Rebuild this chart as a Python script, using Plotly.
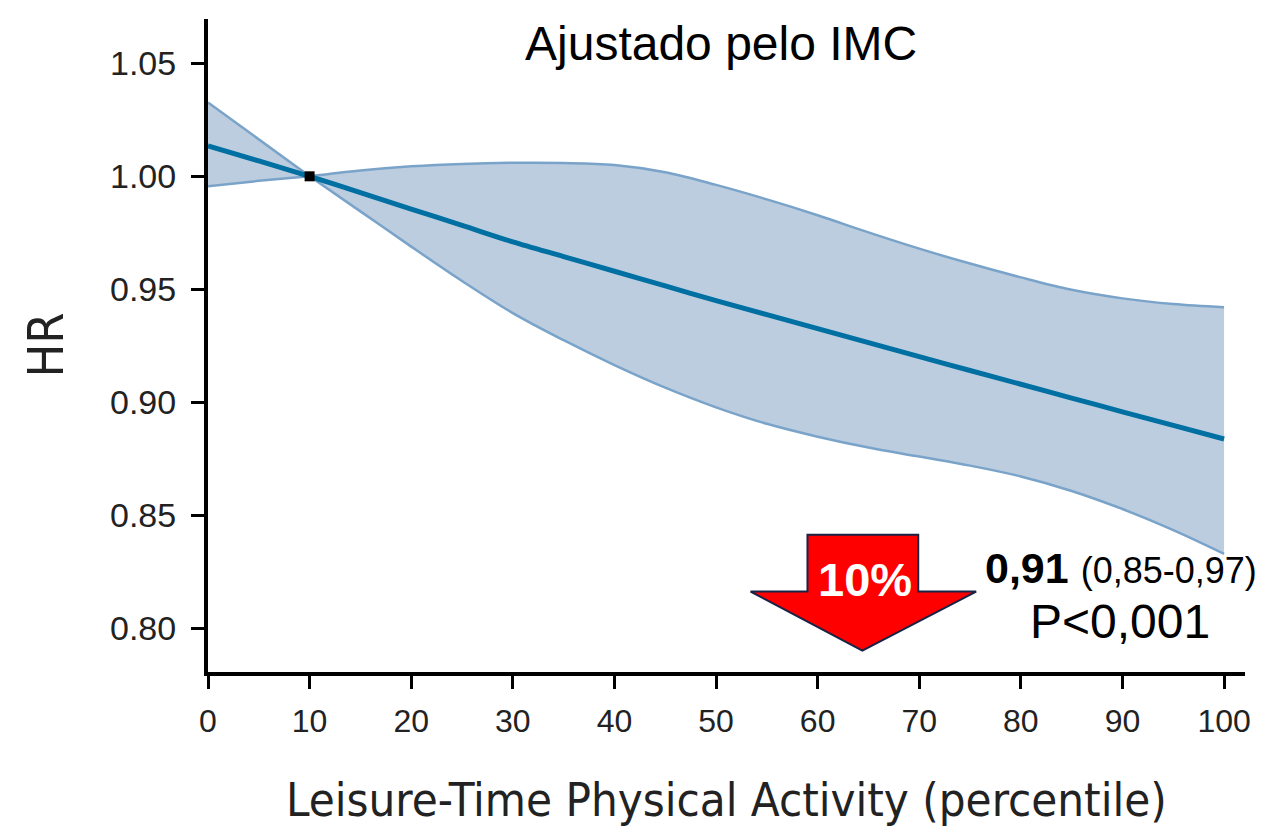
import plotly.graph_objects as go

# percentile of leisure-time physical activity
percentile = [0, 5, 10, 15, 20, 25, 30, 35, 40, 45, 50,
              55, 60, 65, 70, 75, 80, 85, 90, 95, 100]

# hazard ratio (adjusted for BMI) and its 95% CI
hr = [1.0135, 1.0068, 1.000, 0.9928, 0.9855, 0.9783, 0.9710, 0.9645, 0.9580, 0.9515, 0.9450,
      0.9388, 0.9326, 0.9264, 0.9202, 0.9141, 0.9080, 0.9019, 0.8958, 0.8898, 0.8838]
ci_upper = [1.0327, 1.0163, 1.000, 1.0026, 1.0044, 1.0055, 1.0060, 1.0059, 1.0050, 1.0018, 0.9962,
            0.9898, 0.9828, 0.9752, 0.9680, 0.9614, 0.9553, 0.9498, 0.9460, 0.9435, 0.9421]
ci_lower = [0.9956, 0.9980, 1.000, 0.9845, 0.9689, 0.9537, 0.9395, 0.9275, 0.9165, 0.9065, 0.8978,
            0.8905, 0.8848, 0.8800, 0.8760, 0.8720, 0.8672, 0.8608, 0.8528, 0.8435, 0.8330]

ref_point = (10, 1.0)

x_ticks = [0, 10, 20, 30, 40, 50, 60, 70, 80, 90, 100]
y_ticks = [0.80, 0.85, 0.90, 0.95, 1.00, 1.05]

band_fill = "rgb(188, 205, 224)"
band_edge = "rgb(122, 163, 201)"
line_color = "rgb(0, 111, 161)"
narrow = "Liberation Sans Narrow, DejaVu Sans Condensed, Arial Narrow, sans-serif"
arial = "Liberation Sans, Arial, sans-serif"

fig = go.Figure()

# confidence band: split at the reference point so the band pinches to a sharp point there
ref_idx = percentile.index(ref_point[0])
segments = [(0, ref_idx + 1, "linear"), (ref_idx, len(percentile), "spline")]
for start, stop, shape in segments:
    fig.add_trace(
        go.Scatter(
            x=percentile[start:stop],
            y=ci_upper[start:stop],
            mode="lines",
            line=dict(color=band_edge, width=2.5, shape=shape, smoothing=1.0),
            showlegend=False,
            hoverinfo="skip",
        )
    )
    fig.add_trace(
        go.Scatter(
            x=percentile[start:stop],
            y=ci_lower[start:stop],
            mode="lines",
            fill="tonexty",
            fillcolor=band_fill,
            line=dict(color=band_edge, width=2.5, shape=shape, smoothing=1.0),
            showlegend=False,
            hoverinfo="skip",
        )
    )
# HR line
fig.add_trace(
    go.Scatter(
        x=percentile,
        y=hr,
        mode="lines",
        line=dict(color=line_color, width=5, shape="spline", smoothing=0.9),
        showlegend=False,
    )
)
# reference point
fig.add_trace(
    go.Scatter(
        x=[ref_point[0]],
        y=[ref_point[1]],
        mode="markers",
        marker=dict(color="black", size=10, symbol="square", line=dict(width=0)),
        showlegend=False,
    )
)

# red down arrow
arrow = [(59.0, 0.8414), (69.9, 0.8414), (69.9, 0.8163), (75.6, 0.8163),
         (64.4, 0.7902), (53.4, 0.8163), (59.0, 0.8163)]
path = "M " + " L ".join("%s,%s" % p for p in arrow) + " Z"
fig.add_shape(
    type="path",
    path=path,
    xref="x",
    yref="y",
    fillcolor="rgb(255, 0, 0)",
    line=dict(color="rgb(25, 35, 70)", width=2),
    layer="above",
)

fig.add_annotation(
    x=64.7, y=0.8215, text="<b>10%</b>", showarrow=False,
    font=dict(family=arial, size=47, color="white"),
)
fig.add_annotation(
    x=89.9, y=0.8268,
    text="<b>0,91</b> <span style='font-size:36px'>(0,85-0,97)</span>",
    showarrow=False, font=dict(family=arial, size=43, color="black"),
)
fig.add_annotation(
    x=89.75, y=0.8030, text="P<0,001", showarrow=False,
    font=dict(family=arial, size=48, color="black"),
)
fig.add_annotation(
    x=50.5, y=1.0588, text="Ajustado pelo IMC", showarrow=False,
    font=dict(family=arial, size=48, color="black"),
)
# axis titles
fig.add_annotation(
    x=0.5, y=0, xref="paper", yref="paper", yanchor="middle",
    yshift=-127, text="Leisure-Time Physical Activity (percentile)",
    showarrow=False, font=dict(family=narrow, size=47, color="#222"),
)
fig.add_annotation(
    x=0, y=0.5, xref="paper", yref="paper", xanchor="center",
    xshift=-163, textangle=-90, text="HR",
    showarrow=False, font=dict(family=narrow, size=50, color="#222"),
)

fig.update_xaxes(
    range=[0, 102.06],
    tickvals=x_ticks,
    ticks="outside",
    ticklen=13,
    tickwidth=3,
    tickcolor="black",
    showline=True,
    linewidth=4,
    linecolor="black",
    showgrid=False,
    zeroline=False,
    ticklabelstandoff=5,
    tickfont=dict(family=arial, size=32, color="#222"),
)
fig.update_yaxes(
    range=[0.7807, 1.0696],
    tickvals=y_ticks,
    tickformat=".2f",
    ticks="outside",
    ticklen=13,
    tickwidth=3,
    tickcolor="black",
    showline=True,
    linewidth=4,
    linecolor="black",
    showgrid=False,
    zeroline=False,
    ticklabelstandoff=8,
    tickfont=dict(family=arial, size=34, color="#222"),
)
# the page body adds 8px around the figure, so the figure is 8px smaller
fig.update_layout(
    width=1259,
    height=828,
    margin=dict(l=200, r=22, t=11, b=164),
    plot_bgcolor="white",
    paper_bgcolor="white",
)

fig.write_html("out.html")
